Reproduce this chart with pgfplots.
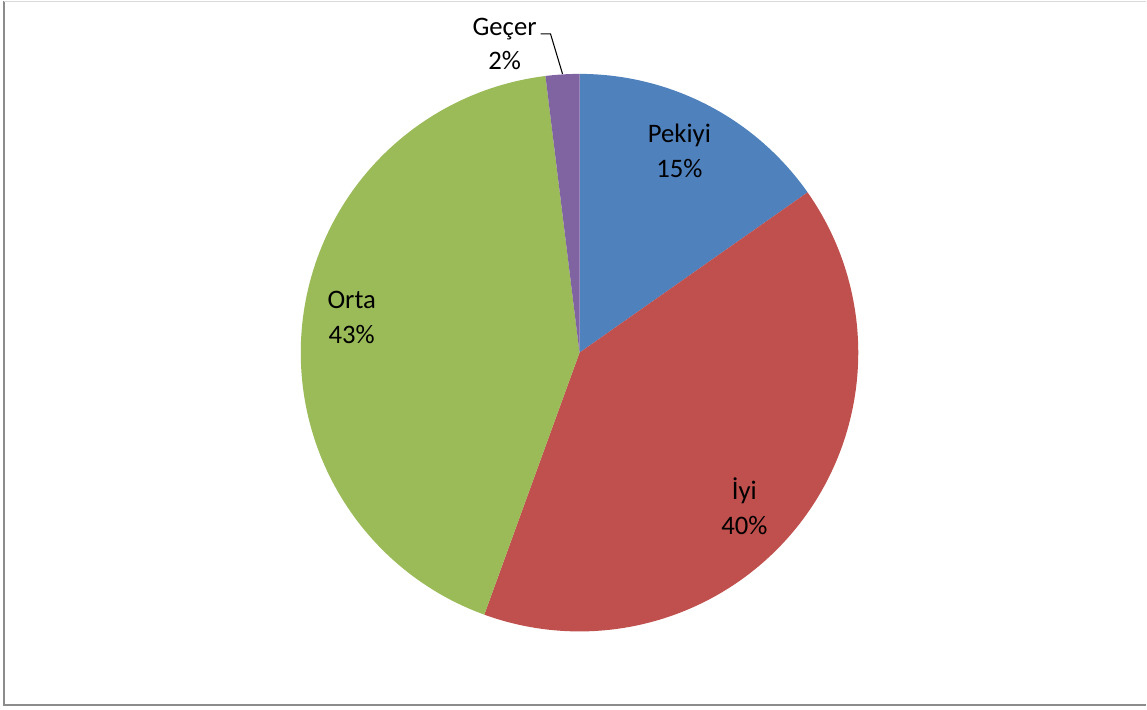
\documentclass[border=0pt]{standalone}
\usepackage{pgfplots}
\pgfplotsset{compat=1.18}
\usepackage{fontspec}
\setmainfont{Carlito}
\definecolor{cblue}{HTML}{4F81BD}
\definecolor{cred}{HTML}{C0504D}
\definecolor{cgreen}{HTML}{9BBB59}
\definecolor{cpurple}{HTML}{8064A2}
\definecolor{cframe}{HTML}{8C8C8C}
\begin{document}
\begin{tikzpicture}
\begin{axis}[scale only axis, width=11.47cm, height=7.09cm,
  xmin=0, xmax=1147, ymin=0, ymax=709, hide axis, clip=false]
\fill[white] (axis cs:0,0) rectangle (axis cs:1147,709);
% shares in percent: Pekiyi 15.25, Iyi 40.3, Orta 42.5, Gecer 1.95
\addplot[fill=cblue, draw=none, domain={0}:{15.25*3.6}, samples=80]
  ({580+279*sin(x)},{357+279*cos(x)}) -- (axis cs:580,357) -- cycle;
\addplot[fill=cred, draw=none, domain={15.25*3.6}:{(15.25+40.3)*3.6}, samples=120]
  ({580+279*sin(x)},{357+279*cos(x)}) -- (axis cs:580,357) -- cycle;
\addplot[fill=cgreen, draw=none, domain={(15.25+40.3)*3.6}:{(15.25+40.3+42.5)*3.6}, samples=120]
  ({580+279*sin(x)},{357+279*cos(x)}) -- (axis cs:580,357) -- cycle;
\addplot[fill=cpurple, draw=none, domain={(15.25+40.3+42.5)*3.6}:{(15.25+40.3+42.5+1.95)*3.6}, samples=20]
  ({580+279*sin(x)},{357+279*cos(x)}) -- (axis cs:580,357) -- cycle;
\tikzset{lbl/.style={align=center, font=\fontsize{7.6}{9.9}\selectfont, inner sep=0pt}}
\node[lbl] at (axis cs:680,559) {Pekiyi\\15\%};
\node[lbl] at (axis cs:745,203) {İyi\\40\%};
\node[lbl] at (axis cs:352,392) {Orta\\43\%};
\node[lbl] at (axis cs:505,666) {Geçer\\2\%};
\draw[black, line width=0.3pt] (axis cs:541,676) -- (axis cs:551,676) -- (axis cs:563,636);
\draw[cframe, line width=0.55pt] (axis cs:4,709) -- (axis cs:4,4) -- (axis cs:1147,4);
\draw[black!15, line width=0.4pt] (axis cs:4,708.5) -- (axis cs:1147,708.5);
\end{axis}
\end{tikzpicture}
\end{document}
